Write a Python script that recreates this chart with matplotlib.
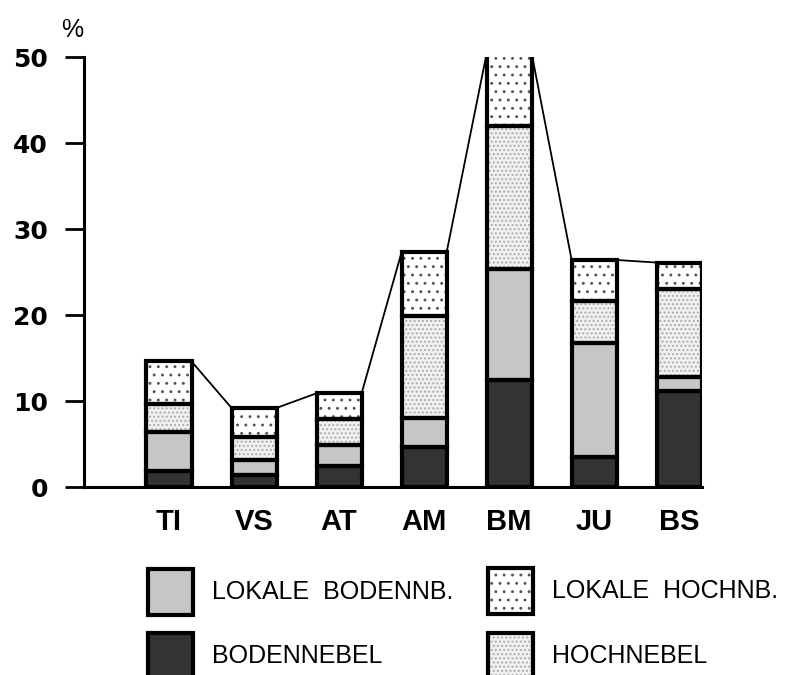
import numpy as np
import matplotlib
matplotlib.use('Agg')
import matplotlib.pyplot as plt
from matplotlib.patches import Rectangle

# data (percent)
stations = ['TI', 'VS', 'AT', 'AM', 'BM', 'JU', 'BS']
bodennebel = [1.9, 1.4, 2.4, 4.7, 12.4, 3.5, 11.2]
lokale_bodennb = [4.5, 1.7, 2.5, 3.3, 13.0, 13.2, 1.6]
hochnebel = [3.3, 2.7, 3.0, 11.9, 16.6, 4.9, 10.2]
lokale_hochnb = [4.9, 3.4, 3.0, 7.4, 8.4, 4.8, 3.1]
y_ticks = [0, 10, 20, 30, 40, 50]

plt.rcParams['font.family'] = ['Liberation Sans', 'DejaVu Sans']
plt.rcParams['hatch.linewidth'] = 0.9

# fill styles: (facecolor, hatch, hatch color)
styles = {
    'BODENNEBEL': ('#333333', '', '#333333'),
    'LOKALE BODENNB.': ('#c6c6c6', '', '#c6c6c6'),
    'HOCHNEBEL': ('#f0f0f0', '....', '#a8a8a8'),
    'LOKALE HOCHNB.': ('white', '..', '#555555'),
}
series = [('BODENNEBEL', bodennebel), ('LOKALE BODENNB.', lokale_bodennb),
          ('HOCHNEBEL', hochnebel), ('LOKALE HOCHNB.', lokale_hochnb)]

fig = plt.figure(figsize=(7.9, 6.75), dpi=100)
ax = fig.add_axes([0.1063, 0.2785, 0.782, 0.637])

x = np.arange(1, len(stations) + 1)
w = 0.53
bottom = np.zeros(len(stations))
for name, vals in series:
    fc, hatch, hc = styles[name]
    vals = np.array(vals)
    ax.bar(x, vals, w, bottom=bottom, color=fc, hatch=hatch, edgecolor=hc,
           linewidth=0, zorder=2)
    ax.bar(x, vals, w, bottom=bottom, fill=False, edgecolor='black',
           linewidth=3, zorder=3)
    bottom = bottom + vals

# thin line joining the bar tops
for i in range(len(stations) - 1):
    ax.plot([x[i] + w / 2, x[i + 1] - w / 2], [bottom[i], bottom[i + 1]],
            color='black', linewidth=1.3, zorder=1)

ax.set_xlim(0, x[-1] + w / 2)
ax.set_ylim(0, 50)
ax.spines['top'].set_visible(False)
ax.spines['right'].set_visible(False)
ax.spines['left'].set_linewidth(2.2)
ax.spines['bottom'].set_linewidth(2.2)
ax.spines['left'].set_bounds(0, 50)

ax.set_yticks(y_ticks)
ax.set_yticklabels([str(t) for t in y_ticks], fontsize=18, fontweight='bold',
                   family='DejaVu Sans')
ax.tick_params(axis='y', length=14, width=2, pad=12)
ax.set_xticks(x)
ax.set_xticklabels(stations, fontsize=21, fontweight='bold')
ax.tick_params(axis='x', length=0, pad=15)

fig.text(72 / 790, 1 - 30 / 675, '%', fontsize=18, ha='center', va='center')

# legend drawn by hand, two columns
legend_items = [('LOKALE BODENNB.', 148, 569), ('LOKALE HOCHNB.', 488, 568),
                ('BODENNEBEL', 148, 633), ('HOCHNEBEL', 488, 633)]
W, H = 790, 675
for name, px, py in legend_items:
    fc, hatch, hc = styles[name]
    r = Rectangle((px / W, 1 - (py + 46) / H), 45 / W, 46 / H,
                  transform=fig.transFigure, facecolor=fc, hatch=hatch,
                  edgecolor=hc, linewidth=0)
    fig.add_artist(r)
    r2 = Rectangle((px / W, 1 - (py + 46) / H), 45 / W, 46 / H,
                   transform=fig.transFigure, fill=False, edgecolor='black',
                   linewidth=3)
    fig.add_artist(r2)
    label = name.replace('LOKALE ', 'LOKALE  ')
    fig.text((px + 64) / W, 1 - (py + 23) / H, label, fontsize=18,
             ha='left', va='center')

plt.savefig('out.png', dpi=100)
plt.close()
